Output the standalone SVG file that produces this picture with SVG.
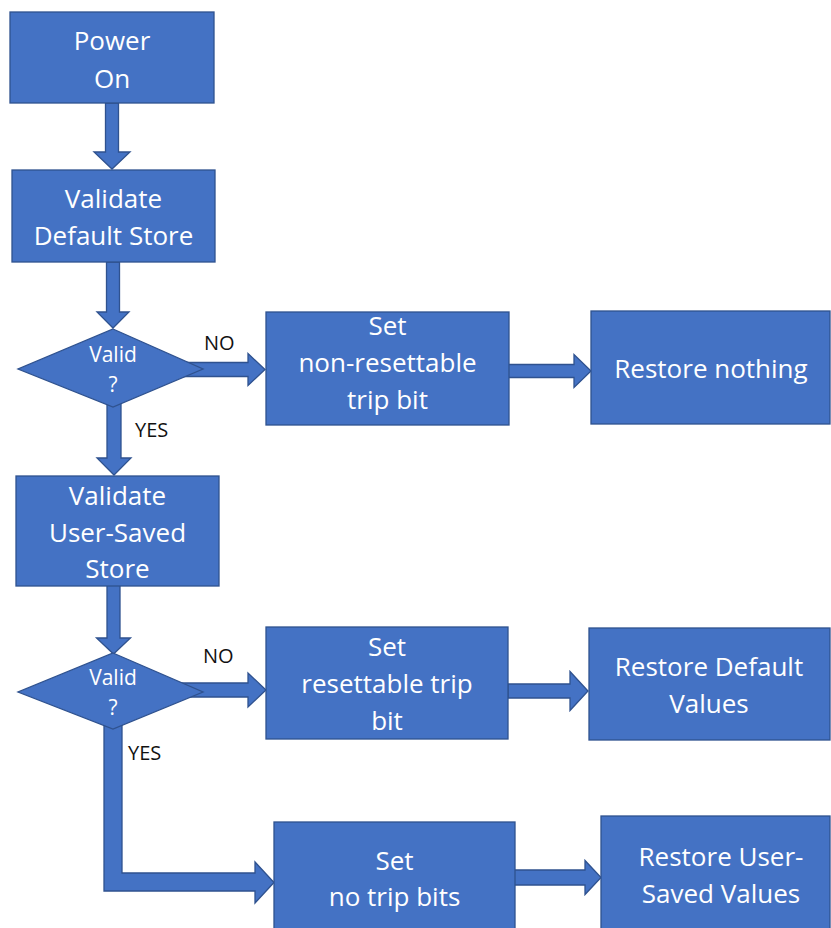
<svg xmlns="http://www.w3.org/2000/svg" width="831" height="928" viewBox="0 0 831 928">
<style>
.n{fill:#4472C4;stroke:#2F528F;stroke-width:1.3}
.c{fill:#4472C4;stroke:#2F528F;stroke-width:1.3;stroke-linejoin:miter}
.t{font-family:"Open Sans","Liberation Sans",sans-serif;font-size:26px;fill:#fff;text-anchor:middle}
.d{font-family:"Open Sans","Liberation Sans",sans-serif;font-size:21px;fill:#fff;text-anchor:middle}
.l{font-family:"Open Sans","Liberation Sans",sans-serif;font-size:20px;fill:#111}
</style>
<rect width="831" height="928" fill="#fff"/>
<g id="connectors">
<polygon class="c" points="105.5,103 118.5,103 118.5,152 130,152 112,169 94,152 105.5,152"/>
<polygon class="c" points="106.5,262 119.5,262 119.5,312 129,312 113,328 97,312 106.5,312"/>
<polygon class="c" points="107,400 121,400 121,458 131,458 114,475 97,458 107,458"/>
<polygon class="c" points="107,585 120,585 120,638 130.5,638 113.5,654 96.5,638 107,638"/>
<polygon class="c" points="180,362.5 248,362.5 248,353.5 265,369.5 248,385.5 248,376.5 180,376.5"/>
<polygon class="c" points="508,364.5 574,364.5 574,354.5 591,371 574,387.5 574,377.5 508,377.5"/>
<polygon class="c" points="180,683 248,683 248,673 266,690 248,707 248,697 180,697"/>
<polygon class="c" points="508,684 570,684 570,671.5 588,691 570,710.5 570,698 508,698"/>
<polygon class="c" points="104,715 122,715 122,873 255,873 255,862 274,882.5 255,903 255,891 104,891"/>
<polygon class="c" points="514,870 585,870 585,860.5 601,877.5 585,894.5 585,885 514,885"/>
</g>
<g id="power-on">
<rect class="n" x="10" y="12" width="204" height="91"/>
<text class="t" x="112" y="50">Power</text>
<text class="t" x="112" y="88">On</text>
</g>
<g id="validate-default">
<rect class="n" x="12" y="170" width="203" height="92"/>
<text class="t" x="113.5" y="208">Validate</text>
<text class="t" x="113.5" y="245">Default Store</text>
</g>
<g id="valid-1">
<polygon class="n" points="113,329 203,369 113,407 18,369"/>
<text class="d" x="113" y="362">Valid</text>
<text class="d" x="113" y="392">?</text>
</g>
<g id="set-nonresettable">
<rect class="n" x="266" y="312" width="243" height="113"/>
<text class="t" x="387.5" y="335">Set</text>
<text class="t" x="387.5" y="372">non-resettable</text>
<text class="t" x="387.5" y="409">trip bit</text>
</g>
<g id="restore-nothing">
<rect class="n" x="591" y="311" width="239" height="113"/>
<text class="t" x="711" y="378">Restore nothing</text>
</g>
<g id="validate-user">
<rect class="n" x="16" y="476" width="203" height="110"/>
<text class="t" x="117.5" y="505">Validate</text>
<text class="t" x="117.5" y="542">User-Saved</text>
<text class="t" x="117.5" y="578">Store</text>
</g>
<g id="valid-2">
<polygon class="n" points="113,653 203,692 113,729 18,692"/>
<text class="d" x="113" y="685">Valid</text>
<text class="d" x="113" y="715">?</text>
</g>
<g id="set-resettable">
<rect class="n" x="266" y="627" width="242" height="112"/>
<text class="t" x="387" y="656">Set</text>
<text class="t" x="387" y="693">resettable trip</text>
<text class="t" x="387" y="730">bit</text>
</g>
<g id="restore-default">
<rect class="n" x="589" y="628" width="241" height="112"/>
<text class="t" x="709" y="676">Restore Default</text>
<text class="t" x="709" y="713">Values</text>
</g>
<g id="set-no-trip">
<rect class="n" x="274" y="822" width="241" height="110"/>
<text class="t" x="394.5" y="870">Set</text>
<text class="t" x="394.5" y="906">no trip bits</text>
</g>
<g id="restore-user">
<rect class="n" x="601" y="816" width="229" height="116"/>
<text class="t" x="721" y="866">Restore User-</text>
<text class="t" x="721" y="903">Saved Values</text>
</g>
<g id="labels">
<text class="l" x="204" y="350">NO</text>
<text class="l" x="135" y="437">YES</text>
<text class="l" x="203" y="663">NO</text>
<text class="l" x="128" y="760">YES</text>
</g>
</svg>
